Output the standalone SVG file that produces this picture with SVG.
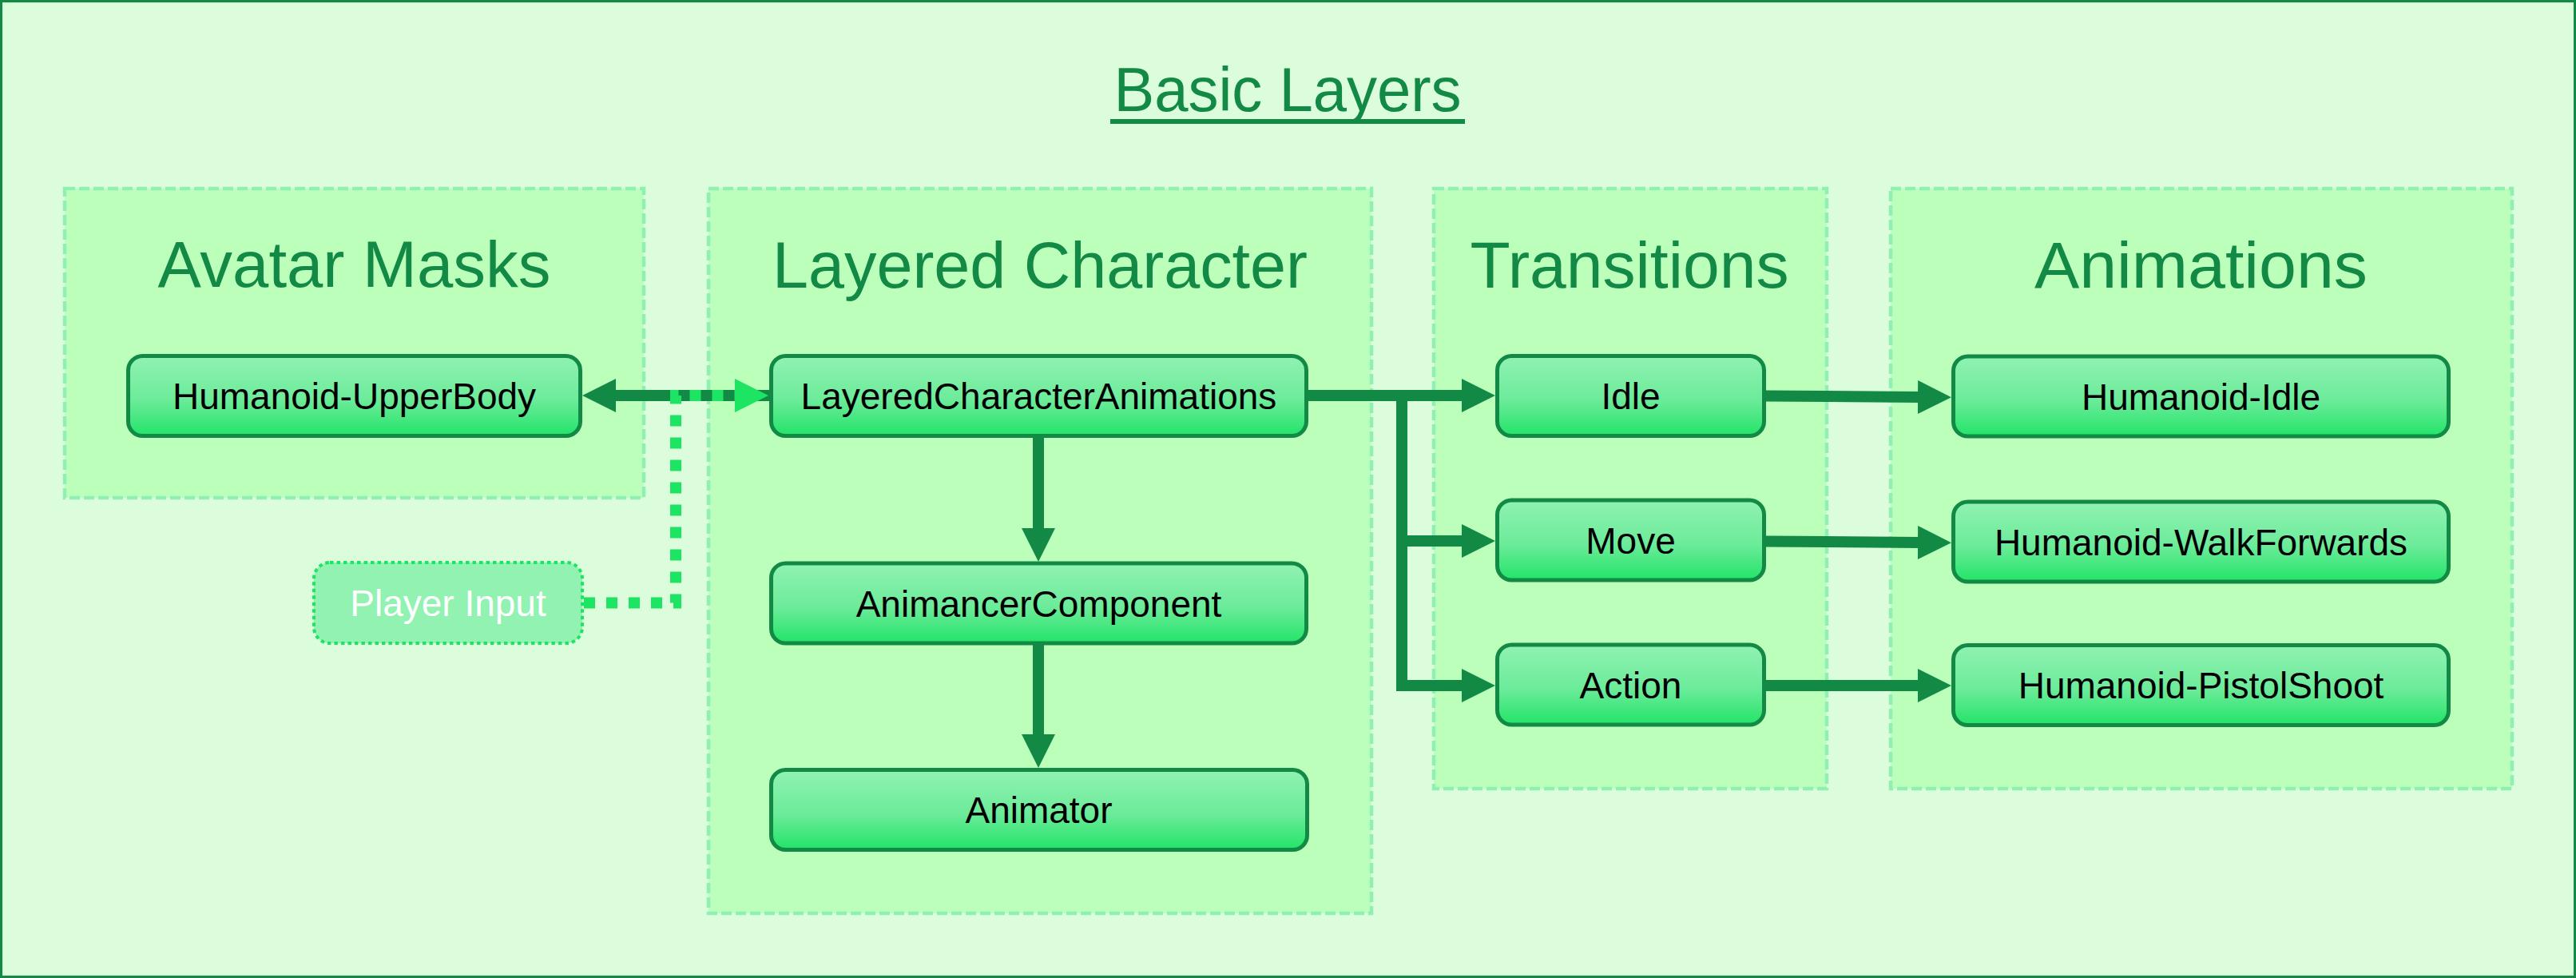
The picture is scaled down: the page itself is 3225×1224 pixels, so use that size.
<svg xmlns="http://www.w3.org/2000/svg" width="3225" height="1224" viewBox="0 0 3225 1224">
  <defs>
    <linearGradient id="nodeGrad" x1="0" y1="0" x2="0" y2="1">
      <stop offset="0" stop-color="#90f2b2"/>
      <stop offset="0.55" stop-color="#6ceb9a"/>
      <stop offset="1" stop-color="#22e468"/>
    </linearGradient>
    <marker id="arrowDark" markerUnits="userSpaceOnUse" viewBox="0 -21 42 42" markerWidth="42" markerHeight="42" refX="1" refY="0" orient="auto">
      <path d="M0,-21 L42,0 L0,21 Z" fill="#128a46"/>
    </marker>
    <marker id="arrowLight" markerUnits="userSpaceOnUse" viewBox="0 -21 42 42" markerWidth="42" markerHeight="42" refX="1" refY="0" orient="auto">
      <path d="M0,-21 L42,0 L0,21 Z" fill="#1de463"/>
    </marker>
  </defs>
  <style>
    .bg { fill: #dcfddc; stroke: #128a46; stroke-width: 3; }
    .groupBox { fill: #bbffbb; stroke: #90f0b4; stroke-width: 4.5; stroke-dasharray: 13 5; }
    .groupTitle { font-family: "Liberation Sans", Arial, sans-serif; font-size: 82px; fill: #128a46; text-anchor: middle; }
    .mainTitle { font-family: "Liberation Sans", Arial, sans-serif; font-size: 78px; fill: #128a46; text-anchor: middle; }
    .node rect { fill: url(#nodeGrad); stroke: #128a46; stroke-width: 5; }
    .node text { font-family: "Liberation Sans", Arial, sans-serif; font-size: 46px; fill: #000000; text-anchor: middle; }
    .input rect { fill: #91f2b2; stroke: #1de463; stroke-width: 4; stroke-dasharray: 4.5 4; }
    .input text { font-family: "Liberation Sans", Arial, sans-serif; font-size: 46px; fill: #ffffff; text-anchor: middle; }
    .conn { fill: none; stroke: #128a46; stroke-width: 14; stroke-linejoin: miter; marker-end: url(#arrowDark); }
    .connPlain { fill: none; stroke: #128a46; stroke-width: 14; }
    .connDotted { fill: none; stroke: #1de463; stroke-width: 14; stroke-dasharray: 14 14; stroke-linejoin: miter; marker-end: url(#arrowLight); }
  </style>

  <rect class="bg" x="1.5" y="1.5" width="3222" height="1221"/>

  <g id="title">
    <text class="mainTitle" x="1612" y="139" textLength="435" lengthAdjust="spacingAndGlyphs">Basic Layers</text>
    <rect x="1390" y="149" width="444" height="6" fill="#128a46"/>
  </g>

  <g id="group-avatar-masks">
    <rect class="groupBox" x="81" y="236" width="725" height="387"/>
    <text class="groupTitle" x="443.5" y="359" textLength="492" lengthAdjust="spacingAndGlyphs">Avatar Masks</text>
  </g>
  <g id="group-layered-character">
    <rect class="groupBox" x="887" y="236" width="830" height="907"/>
    <text class="groupTitle" x="1302" y="360" textLength="670" lengthAdjust="spacingAndGlyphs">Layered Character</text>
  </g>
  <g id="group-transitions">
    <rect class="groupBox" x="1795" y="236" width="492" height="751"/>
    <text class="groupTitle" x="2040" y="360" textLength="399" lengthAdjust="spacingAndGlyphs">Transitions</text>
  </g>
  <g id="group-animations">
    <rect class="groupBox" x="2367" y="236" width="778" height="751"/>
    <text class="groupTitle" x="2755.5" y="360" textLength="417" lengthAdjust="spacingAndGlyphs">Animations</text>
  </g>

  <g id="connectors">
    <path class="conn" d="M965,495 H770"/>
    <path class="connDotted" d="M731,754.5 H846 V495 H921"/>
    <path class="conn" d="M1300,548 V662"/>
    <path class="conn" d="M1300,807 V920"/>
    <path class="conn" d="M1636,495 H1831"/>
    <path class="conn" d="M1755,495 V858 H1831"/>
    <path class="conn" d="M1755,677 H1831"/>
    <path class="conn" d="M2209,495.5 L2402,497"/>
    <path class="conn" d="M2209,677.5 L2402,679"/>
    <path class="conn" d="M2209,858 L2402,858"/>
  </g>

  <g id="node-humanoid-upperbody" class="node">
    <rect x="160.5" y="445.5" width="566" height="100" rx="18"/>
    <text x="443.5" y="512">Humanoid-UpperBody</text>
  </g>
  <g id="node-player-input" class="input">
    <rect x="393" y="704" width="336" height="101" rx="20"/>
    <text x="561" y="771">Player Input</text>
  </g>
  <g id="node-layered-character-animations" class="node">
    <rect x="965.5" y="445.5" width="670" height="100" rx="18"/>
    <text x="1300.5" y="512">LayeredCharacterAnimations</text>
  </g>
  <g id="node-animancer-component" class="node">
    <rect x="965.5" y="705" width="670" height="100" rx="18"/>
    <text x="1300.5" y="771.5">AnimancerComponent</text>
  </g>
  <g id="node-animator" class="node">
    <rect x="965.5" y="963.5" width="671" height="100" rx="18"/>
    <text x="1300.5" y="1030">Animator</text>
  </g>
  <g id="node-idle" class="node">
    <rect x="1874.5" y="445.5" width="334" height="100" rx="18"/>
    <text x="2041.5" y="512">Idle</text>
  </g>
  <g id="node-move" class="node">
    <rect x="1874.5" y="626" width="334" height="100" rx="18"/>
    <text x="2041.5" y="692.5">Move</text>
  </g>
  <g id="node-action" class="node">
    <rect x="1874.5" y="807" width="334" height="100" rx="18"/>
    <text x="2041.5" y="873.5">Action</text>
  </g>
  <g id="node-humanoid-idle" class="node">
    <rect x="2445.5" y="446" width="620" height="100" rx="18"/>
    <text x="2755.5" y="512.5">Humanoid-Idle</text>
  </g>
  <g id="node-humanoid-walkforwards" class="node">
    <rect x="2445.5" y="628" width="620" height="100" rx="18"/>
    <text x="2755.5" y="694.5">Humanoid-WalkForwards</text>
  </g>
  <g id="node-humanoid-pistolshoot" class="node">
    <rect x="2445.5" y="807.5" width="620" height="100" rx="18"/>
    <text x="2755.5" y="874">Humanoid-PistolShoot</text>
  </g>
</svg>
